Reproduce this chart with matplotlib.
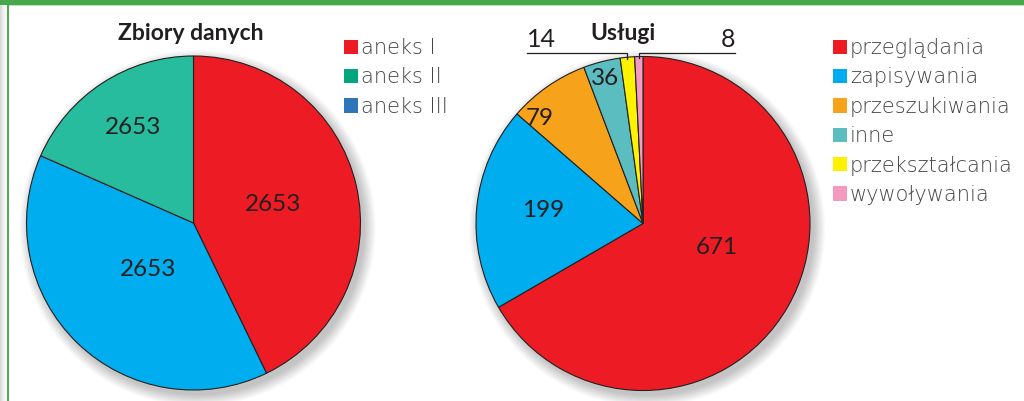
import matplotlib
matplotlib.use("Agg")
import matplotlib.pyplot as plt
from matplotlib.patches import Rectangle, Circle, Patch
import numpy as np

# ---------------- data ----------------
left_title = "Zbiory danych"
left_sizes = [42.8, 38.8, 18.4]            # estimated shares of the drawn slices
left_labels = ["2653", "2653", "2653"]
left_slice_colors = ["#ED1C24", "#00AEEF", "#26BC9D"]
left_legend = ["aneks I", "aneks II", "aneks III"]
left_legend_colors = ["#ED1C24", "#00A67E", "#2E75BA"]

right_title = "Usługi"
right_values = [671, 199, 79, 36, 14, 8]
right_legend = ["przeglądania", "zapisywania", "przeszukiwania", "inne",
                "przekształcania", "wywoływania"]
right_colors = ["#ED1C24", "#00AEEF", "#F7A21B", "#5BBDC0", "#FFF200", "#F49AC1"]

# ---------------- style ----------------
W, H = 1024, 401
DPI = 100
FONT = ["Lato", "DejaVu Sans"]
LEGFONT = ["DejaVu Sans"]
TXT = "#231F20"
R_PX = 167

fig = plt.figure(figsize=(W / DPI, H / DPI), dpi=DPI)
fig.patch.set_facecolor("white")

def fig_rect(x, y, w, h, color, z=0):
    fig.patches.append(Rectangle((x / W, 1 - (y + h) / H), w / W, h / H,
                                 transform=fig.transFigure, facecolor=color,
                                 edgecolor="none", zorder=z))

# frame decoration
for i, c in enumerate(["#D9D9D9", "#E2E2E2", "#EAEAEA", "#F0F0F0", "#F5F5F5", "#FAFAFA", "#FDFDFD"]):
    fig_rect(i, 0, 1, H, c)
fig_rect(7, 0, 1.5, H, "#4CAF50")
fig_rect(0, 0, W, 4.7, "#47A84B")
fig_rect(8.5, 4.7, W, 1, "#BFE3C0")


def make_pie_axes(cx, cy):
    ax = fig.add_axes([(cx - R_PX) / W, (H - cy - R_PX) / H, 2 * R_PX / W, 2 * R_PX / H])
    ax.set_xlim(-1, 1)
    ax.set_ylim(-1, 1)
    ax.set_aspect("equal")
    ax.axis("off")
    for i in range(12):
        ax.add_patch(Circle((0.025, -0.03), 1.0 + i * 0.006, facecolor="black",
                            edgecolor="none", alpha=0.018, zorder=0, clip_on=False))
    return ax

wedge_kw = dict(edgecolor="#231F20", linewidth=0.8)

# ---------------- left pie ----------------
axL = make_pie_axes(193.5, 223)
wl, _ = axL.pie(left_sizes, colors=left_slice_colors, startangle=90, counterclock=False,
                radius=1, wedgeprops=wedge_kw)
for w in wl:
    w.set_zorder(2)
axL.set_xlim(-1, 1); axL.set_ylim(-1, 1)
left_label_pos = [(0.476, 0.108), (-0.272, -0.281), (-0.362, 0.569)]
for (x, y), t in zip(left_label_pos, left_labels):
    axL.text(x, y, t, ha="center", va="center", fontsize=17.5, color=TXT, family=FONT, zorder=5)

fig.text(191 / W, 1 - 33 / H, left_title, ha="center", va="center", fontsize=16.5,
         fontweight="bold", color=TXT, family=FONT)

# ---------------- right pie ----------------
axR = make_pie_axes(643, 223.5)
wr, _ = axR.pie(right_values, colors=right_colors, startangle=90, counterclock=False,
                radius=1, wedgeprops=wedge_kw)
for w in wr:
    w.set_zorder(2)
axR.set_xlim(-1, 1); axR.set_ylim(-1, 1)
inner_pos = [(0.443, -0.141), (-0.599, 0.075), (-0.617, 0.628), (-0.228, 0.871)]
for (x, y), v in zip(inner_pos, right_values[:4]):
    axR.text(x, y, str(v), ha="center", va="center", fontsize=17.5, color=TXT, family=FONT, zorder=5)

line_y = 1.018
ends = [-0.695, 0.551]
for w, v, xe in zip(wr[4:], right_values[4:], ends):
    ang = np.deg2rad((w.theta1 + w.theta2) / 2)
    x0, y0 = np.cos(ang), np.sin(ang)
    axR.plot([x0, x0, xe], [y0 - 0.01, line_y, line_y], color="#231F20", lw=0.9,
             clip_on=False, zorder=6, solid_joinstyle="miter")
    ha = "left" if xe < 0 else "right"
    axR.text(xe, line_y + 0.012, str(v), ha=ha, va="bottom", fontsize=18, color=TXT,
             family=FONT, clip_on=False, zorder=6)

fig.text(623 / W, 1 - 33 / H, right_title, ha="center", va="center", fontsize=16.5,
         fontweight="bold", color=TXT, family=FONT)

# ---------------- legends ----------------
def add_legend(labels, colors, x_px, y_px):
    handles = [Patch(facecolor=c, edgecolor="none") for c in colors]
    leg = fig.legend(handles, labels, loc="upper left",
                     bbox_to_anchor=(x_px / W, 1 - y_px / H), frameon=False,
                     borderpad=0, borderaxespad=0, handlelength=0.67, handleheight=0.67,
                     handletextpad=0.15, labelspacing=0.45,
                     prop=dict(family=LEGFONT, size=15, weight="light"))
    for t in leg.get_texts():
        t.set_color("#444444")
    return leg

add_legend(left_legend, left_legend_colors, 344, 38)
add_legend(right_legend, right_colors, 833, 38)

fig.savefig("out.png", dpi=DPI, facecolor="white")
